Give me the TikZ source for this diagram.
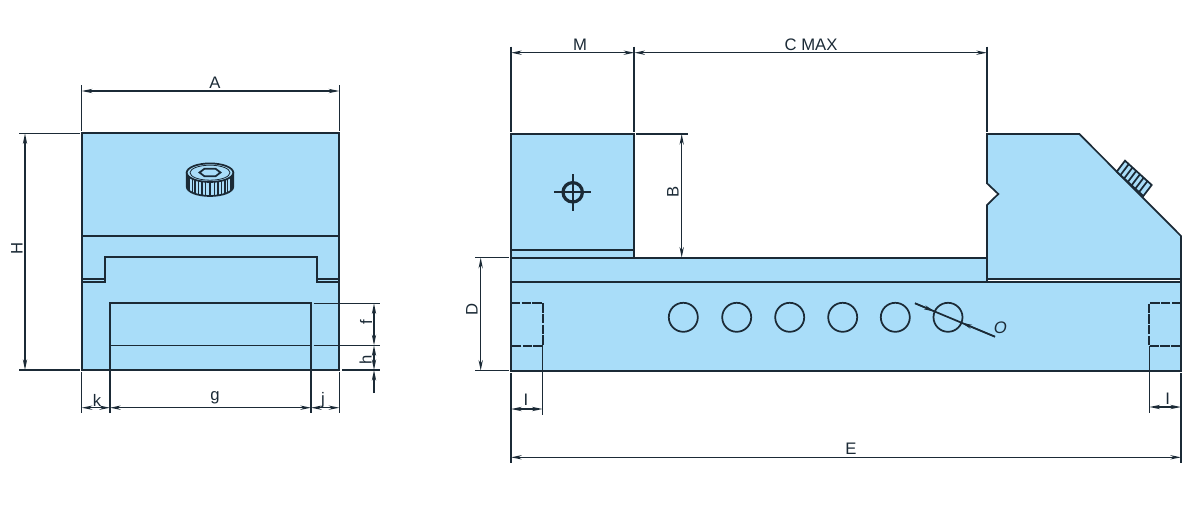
\documentclass[tikz,border=0pt]{standalone}
\usepackage{fontspec}
\setmainfont{Liberation Sans}
\usetikzlibrary{arrows.meta,calc}
\definecolor{jawblue}{HTML}{A9DDF9}
\definecolor{inkline}{HTML}{1B2A36}
\tikzset{
    body/.style={draw=inkline,fill=jawblue,line width=1.3pt,line join=miter},
    edge/.style={draw=inkline,line width=1.3pt},
    thinedge/.style={draw=inkline,line width=1.1pt},
    extline/.style={draw=inkline,line width=1.15pt},
    dimline/.style={draw=inkline,line width=1.05pt,{Stealth[length=8pt,width=3.2pt]}-{Stealth[length=8pt,width=3.2pt]}},
    hidden/.style={draw=inkline,line width=1.3pt,dash pattern=on 7pt off 1pt},
    dimlabel/.style={inner sep=0pt,text=inkline,font=\fontsize{12.5}{14}\selectfont},
}
\begin{document}
\begin{tikzpicture}[x=0.75pt,y=-0.75pt]
    \useasboundingbox (0,0) rectangle (1189,514);

    % end view
    \coordinate (tl) at (81.7,133.3);
    \coordinate (tr) at (339.3,133.3);
    \coordinate (bl) at (81.7,370);
    \coordinate (br) at (339.3,370);
    \filldraw[body] (tl) rectangle (br);
    \draw[edge] (81.7,236) -- (339.3,236);
    \draw[edge] (81.7,279.3) -- (105,279.3) -- (105,256.7) -- (316.7,256.7) -- (316.7,279.3) -- (339.3,279.3);
    \draw[edge] (81.7,282) -- (105,282) -- (105,279.3);
    \draw[edge] (316.7,279.3) -- (316.7,282) -- (339.3,282);
    \draw[edge] (110,413) -- (110,303.3) -- (311,303.3) -- (311,413);
    \draw[thinedge] (110,345.3) -- (311,345.3);

    % screw head
    \filldraw[body] (186.7,172.7) -- (186.7,186.7) arc[start angle=180,end angle=0,x radius=23.3,y radius=9.3] -- (233.3,172.7) -- cycle;
    \foreach \a in {10,20,...,170}
        \draw[inkline,line width=0.8pt] ({210+23.3*cos(\a)},{172.7+9.3*sin(\a)}) -- ({210+23.3*cos(\a)},{186.7+9.3*sin(\a)});
    \filldraw[body] (210,172.7) ellipse[x radius=23.3,y radius=9.3];
    \draw[inkline,line width=0.6pt] (210,172.7) ellipse[x radius=20,y radius=7.5];
    \draw[edge] (199.5,172.5) -- (204.5,168.7) -- (215.5,168.7) -- (220.5,172.5) -- (215.5,176.3) -- (204.5,176.3) -- cycle;

    % end view dimensions
    \draw[extline] (81.7,85) -- (81.7,131);
    \draw[extline] (339.3,85) -- (339.3,131);
    \draw[dimline] (81.7,91) -- (339.3,91);
    \node[dimlabel] (labA) at (215,83) {A};

    \draw[extline] (19,133.3) -- (79.5,133.3);
    \draw[extline] (19,370) -- (79.5,370);
    \draw[dimline] (25,133.3) -- (25,370);
    \node[dimlabel,rotate=90] (labH) at (17,248) {H};

    \draw[extline] (313.5,303.3) -- (380,303.3);
    \draw[extline] (313.5,345.3) -- (380,345.3);
    \draw[extline] (342,370) -- (380,370);
    \draw[dimline] (374,303.3) -- (374,345.3);
    \draw[dimline] (374,345.3) -- (374,370);
    \draw[inkline,line width=1.05pt,-{Stealth[length=8pt,width=3.2pt]}] (374,393) -- (374,370);
    \node[dimlabel,rotate=90] (labf) at (366,322) {f};
    \node[dimlabel,rotate=90] (labh) at (365.5,360) {h};

    \draw[extline] (81.7,372) -- (81.7,413);
    \draw[extline] (339.3,372) -- (339.3,413);
    \draw[dimline] (81.7,407.7) -- (110,407.7);
    \draw[dimline] (110,407.7) -- (311,407.7);
    \draw[dimline] (311,407.7) -- (339.3,407.7);
    \node[dimlabel] (labk) at (97,400) {k};
    \node[dimlabel] (labg) at (215,398) {g};
    \node[dimlabel] (labj) at (323,400) {j};

    % side view
    \filldraw[body] (511,282.3) rectangle (1181,370.7);
    \filldraw[body] (511,257.7) rectangle (987,282.3);
    \filldraw[body] (511,134) rectangle (634.3,257.7);
    \draw[thinedge] (511,250) -- (634.3,250);
    \filldraw[body] (987,134) -- (1079.3,134) -- (1181,236) -- (1181,279) -- (987,279) -- (987,205) -- (998.3,194) -- (987,183.3) -- cycle;
    \draw[edge] (1181,279) -- (1181,282.3);

    % knurled knob
    \coordinate (ka) at (1116.7,171.7);
    \coordinate (kb) at (1125,160.7);
    \coordinate (kc) at (1151.7,185);
    \coordinate (kd) at (1143.3,196);
    \filldraw[body] (ka) -- (kb) -- (kc) -- (kd) -- cycle;
    \foreach \t in {0.14,0.28,...,0.9}
        \draw[edge] ($(ka)!\t!(kd)$) -- ($(kb)!\t!(kc)$);

    % holes
    \foreach \x in {683.3,736.7,789.7,842.7,895.3,948}
        \draw[edge] (\x,317.3) circle (14.5);
    \coordinate (leadA) at (915,303.3);
    \coordinate (leadB) at (995,336.7);
    \draw[edge] (leadA) -- (leadB);
    \draw[inkline,line width=1.05pt,-{Stealth[length=8pt,width=3.2pt]}] (leadA) -- (934.6,311.5);
    \draw[inkline,line width=1.05pt,-{Stealth[length=8pt,width=3.2pt]}] (leadB) -- (961.4,322.7);
    \node[dimlabel,font=\fontsize{12.5}{14}\selectfont\itshape] (labO) at (1000.3,328) {O};

    % cross mark
    \draw[inkline,line width=2.4pt] (572.7,192.3) circle (9.7);
    \draw[edge] (554,192.3) -- (591,192.3);
    \draw[edge] (572.7,174) -- (572.7,210.7);

    % hidden pockets
    \draw[hidden] (511,303.3) -- (543,303.3) -- (543,345.7) -- (511,345.7);
    \draw[hidden] (1181,303.3) -- (1149.3,303.3) -- (1149.3,346) -- (1181,346);

    % side view dimensions
    \draw[extline] (511,46.7) -- (511,132);
    \draw[edge] (634.3,46.7) -- (634.3,132);
    \draw[extline] (987,46.7) -- (987,132);
    \draw[dimline] (511,52.7) -- (634.3,52.7);
    \draw[dimline] (634.3,52.7) -- (987,52.7);
    \node[dimlabel] (labM) at (580,45) {M};
    \node[dimlabel] (labC) at (811,45) {C MAX};

    \draw[extline] (636,134) -- (687.7,134);
    \draw[dimline] (681.7,134) -- (681.7,257.7);
    \node[dimlabel,rotate=90] (labB) at (673,192) {B};

    \draw[extline] (475,257.7) -- (509,257.7);
    \draw[extline] (475,370.7) -- (509,370.7);
    \draw[dimline] (480.7,257.7) -- (480.7,370.7);
    \node[dimlabel,rotate=90] (labD) at (472,309) {D};

    \draw[extline] (511,373) -- (511,463);
    \draw[extline] (542.7,345.7) -- (542.7,415);
    \draw[extline] (1149.3,346) -- (1149.3,413);
    \draw[extline] (1181,373) -- (1181,463);
    \draw[dimline] (511,409) -- (542.7,409);
    \draw[dimline] (1149.3,407) -- (1181,407);
    \draw[dimline] (511,457.3) -- (1181,457.3);
    \node[dimlabel] (labIa) at (526,400) {I};
    \node[dimlabel] (labIb) at (1167.7,399) {I};
    \node[dimlabel] (labE) at (851,449) {E};
\end{tikzpicture}
\end{document}
